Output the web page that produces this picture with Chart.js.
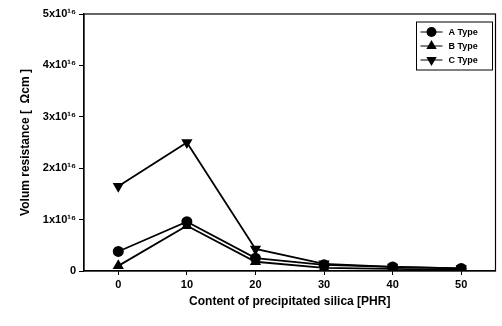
<!DOCTYPE html>
<html>
<head>
<meta charset="utf-8">
<script src="https://cdn.jsdelivr.net/npm/chart.js@4"></script>
<style>
  body { margin: 0; background: #fff; }
  #wrap { width: 502px; height: 326px; }
</style>
</head>
<body>
<div id="wrap"><canvas id="line_chart" width="502" height="326"></canvas></div>
<script>
// silica content [PHR]
var silica = [0, 10, 20, 30, 40, 50];

// volume resistance, ohm cm
var typeA = [0.38e16, 0.96e16, 0.25e16, 0.12e16, 0.08e16, 0.05e16];
var typeB = [0.10e16, 0.88e16, 0.18e16, 0.06e16, 0.04e16, 0.02e16];
var typeC = [1.65e16, 2.50e16, 0.43e16, 0.14e16, 0.08e16, 0.05e16];

var seriesNames = ["A Type", "B Type", "C Type"];
var yTickLabels = ["0", "1x10¹⁶", "2x10¹⁶", "3x10¹⁶", "4x10¹⁶", "5x10¹⁶"];

var FONT = "'Liberation Sans', Arial, sans-serif";

function pts(vals) {
    return silica.map(function(s, i) { return { x: s, y: vals[i] }; });
}

function mkSet(label, vals, style, rot) {
    return {
        label: label,
        data: pts(vals),
        borderColor: "#000",
        backgroundColor: "#000",
        borderWidth: 1.8,
        pointStyle: style,
        pointRotation: rot,
        pointRadius: style == "circle" ? 5.5 : 6.5,
        pointBorderWidth: 0,
        fill: false,
        tension: 0
    };
}

// frame round the plot + legend box in the top right corner
var framePlugin = {
    id: "frame",
    afterDraw: function(chart) {
        var ctx = chart.ctx, a = chart.chartArea;
        ctx.save();
        ctx.strokeStyle = "#000";
        ctx.lineWidth = 1.2;
        ctx.strokeRect(a.left, a.top, a.right - a.left, a.bottom - a.top);

        // legend
        var bx = a.right - 79, by = a.top + 8, bw = 76, bh = 48;
        ctx.fillStyle = "#fff";
        ctx.fillRect(bx, by, bw, bh);
        ctx.lineWidth = 1;
        ctx.strokeRect(bx, by, bw, bh);
        chart.data.datasets.forEach(function(ds, i) {
            var yy = by + 10 + i * 14;
            ctx.strokeStyle = "#000";
            ctx.lineWidth = 1;
            ctx.beginPath();
            ctx.moveTo(bx + 4, yy);
            ctx.lineTo(bx + 26, yy);
            ctx.stroke();
            ctx.fillStyle = "#000";
            Chart.helpers.drawPoint(ctx, {
                pointStyle: ds.pointStyle,
                rotation: ds.pointRotation,
                radius: ds.pointStyle == "circle" ? 5 : 6,
                borderWidth: 0
            }, bx + 15, yy);
            ctx.font = "bold 9px " + FONT;
            ctx.textBaseline = "middle";
            ctx.textAlign = "left";
            ctx.fillText(ds.label, bx + 32, yy + 0.5);
        });
        ctx.restore();
    }
};

var ctx = document.getElementById("line_chart");
var chart = new Chart(ctx, {
    type: "line",
    data: {
        datasets: [
            mkSet(seriesNames[0], typeA, "circle", 0),
            mkSet(seriesNames[1], typeB, "triangle", 0),
            mkSet(seriesNames[2], typeC, "triangle", 180)
        ]
    },
    options: {
        responsive: false,
        animation: false,
        layout: { padding: { top: 14, right: 5, left: 18, bottom: 17 } },
        plugins: {
            legend: { display: false },
            tooltip: { enabled: false }
        },
        scales: {
            x: {
                type: "linear",
                min: -5,
                max: 55,
                afterBuildTicks: function(scale) {
                    scale.ticks = silica.map(function(v) { return { value: v }; });
                },
                grid: { drawOnChartArea: false, tickLength: 4, color: "#000", tickColor: "#000" },
                border: { display: true, color: "#000", width: 1.2 },
                ticks: { color: "#000", font: { family: FONT, size: 11, weight: "bold" }, padding: 3, maxRotation: 0 },
                title: {
                    display: true,
                    text: "Content of precipitated silica [PHR]",
                    color: "#000",
                    font: { family: FONT, size: 12, weight: "bold" },
                    padding: { top: 6, bottom: 0 }
                },
                afterFit: function(scale) { scale.height = 38; }
            },
            y: {
                min: 0,
                max: 5e16,
                afterBuildTicks: function(scale) {
                    scale.ticks = yTickLabels.map(function(t, i) { return { value: i * 1e16 }; });
                },
                grid: { drawOnChartArea: false, tickLength: 5, color: "#000", tickColor: "#000" },
                border: { display: true, color: "#000", width: 1.2 },
                ticks: {
                    color: "#000",
                    font: { family: FONT, size: 11, weight: "bold" },
                    padding: 3,
                    callback: function(v, i) { return yTickLabels[i]; }
                },
                title: {
                    display: true,
                    text: "Volum resistance [  Ωcm ]",
                    color: "#000",
                    font: { family: FONT, size: 12, weight: "bold" },
                    padding: { top: 0, bottom: 4 }
                },
                afterFit: function(scale) { scale.width = 66; }
            }
        }
    },
    plugins: [framePlugin]
});
</script>
</body>
</html>
